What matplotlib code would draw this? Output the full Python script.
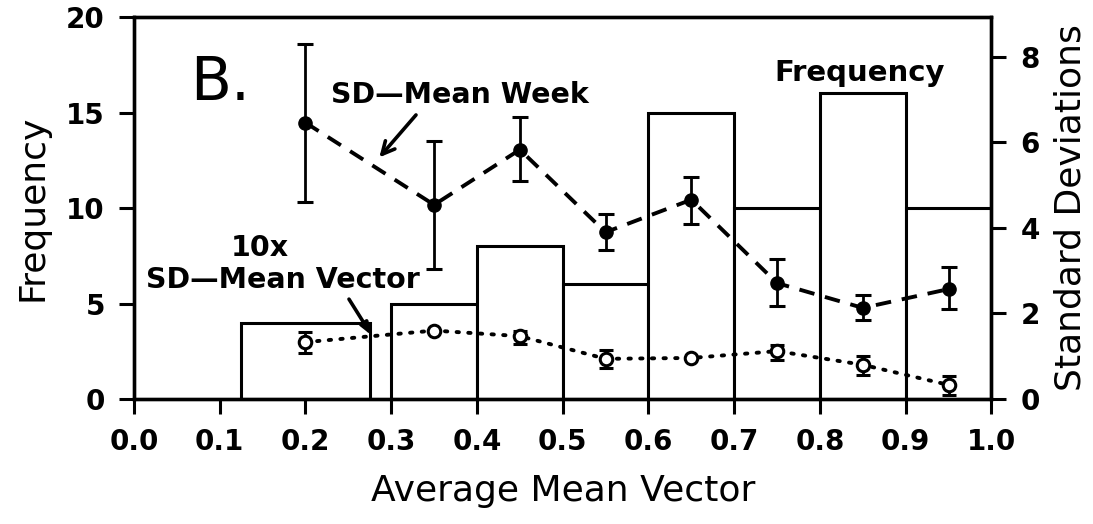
import matplotlib
matplotlib.use("Agg")
import matplotlib.pyplot as plt
from matplotlib.patches import Rectangle
import numpy as np

plt.rcParams['font.family'] = ['DejaVu Sans']

# Histogram (left axis: Frequency)
bin_left = [0.125, 0.3, 0.4, 0.5, 0.6, 0.7, 0.8, 0.9]
bin_right = [0.275, 0.4, 0.5, 0.6, 0.7, 0.8, 0.9, 1.0]
freq = [4, 5, 8, 6, 15, 10, 16, 10]

# Standard deviations (right axis)
x_pts = [0.2, 0.35, 0.45, 0.55, 0.65, 0.75, 0.85, 0.95]
sd_week = [6.46, 4.54, 5.83, 3.90, 4.66, 2.71, 2.13, 2.57]
sd_week_lo = [4.60, 3.04, 5.10, 3.49, 4.10, 2.17, 1.85, 2.10]
sd_week_hi = [8.30, 6.03, 6.60, 4.33, 5.19, 3.27, 2.43, 3.09]
sd_vec10 = [1.33, 1.60, 1.47, 0.94, 0.96, 1.12, 0.80, 0.33]
sd_vec10_lo = [1.08, 1.60, 1.29, 0.73, 0.96, 0.92, 0.56, 0.10]
sd_vec10_hi = [1.57, 1.60, 1.59, 1.15, 0.96, 1.26, 1.00, 0.54]

x_ticks = [0.0, 0.1, 0.2, 0.3, 0.4, 0.5, 0.6, 0.7, 0.8, 0.9, 1.0]
left_ticks = [0, 5, 10, 15, 20]
right_ticks = [0, 2, 4, 6, 8]

fig = plt.figure(figsize=(10.93, 5.24), dpi=100)
ax = fig.add_axes([0.1226, 0.2385, 0.7845, 0.729])
ax2 = ax.twinx()

lw = 2.2
for l, r, h in zip(bin_left, bin_right, freq):
    ax.add_patch(Rectangle((l, 0), r - l, h, facecolor='white', edgecolor='black', linewidth=lw, zorder=1))

ax.set_xlim(0, 1.0)
ax.set_ylim(0, 20)
ax2.set_ylim(0, 8.93)

tfs = 20
ax.set_xticks(x_ticks)
ax.set_xticklabels([f"{t:.1f}" for t in x_ticks], fontsize=tfs, fontweight='bold')
ax.set_yticks(left_ticks)
ax.set_yticklabels([str(t) for t in left_ticks], fontsize=tfs, fontweight='bold')
ax2.set_yticks(right_ticks)
ax2.set_yticklabels([str(t) for t in right_ticks], fontsize=tfs, fontweight='bold')

for a in (ax, ax2):
    a.tick_params(direction='out', length=11, width=2.2, pad=10)
    for s in a.spines.values():
        s.set_linewidth(2.4)

lfs = 26
ax.set_xlabel("Average Mean Vector", fontsize=lfs, labelpad=13)
ax.set_ylabel("Frequency", fontsize=lfs, labelpad=12)
ax2.set_ylabel("Standard Deviations", fontsize=lfs, labelpad=10)

wk = np.array(sd_week)
ax2.errorbar(x_pts, wk, yerr=[wk - np.array(sd_week_lo), np.array(sd_week_hi) - wk],
             fmt='o', color='black', markersize=9.5, elinewidth=2, capsize=5.5, capthick=2.2, zorder=5)
ax2.plot(x_pts, wk, linestyle=(0, (4, 2.8)), color='black', linewidth=2.8, zorder=4)

vc = np.array(sd_vec10)
ax2.errorbar(x_pts, vc, yerr=[vc - np.array(sd_vec10_lo), np.array(sd_vec10_hi) - vc],
             fmt='o', color='black', markerfacecolor='white', markeredgewidth=2.2, markersize=9,
             elinewidth=2, capsize=5, capthick=2.2, zorder=5)
ax2.plot(x_pts, vc, linestyle=(0, (0.6, 2.4)), color='black', linewidth=2.8, zorder=4,
         dash_capstyle='round')

afs = 20.5
ax.text(0.065, 16.5, "B.", fontsize=43, ha='left', va='center')
ax2.text(0.38, 7.11, "SD\u2014Mean Week", fontsize=afs, fontweight='bold', ha='center', va='center')
ax2.annotate("", xy=(0.284, 5.6), xytext=(0.331, 6.69),
             arrowprops=dict(arrowstyle='->,head_length=0.9,head_width=0.45', color='black', lw=2.6))
ax2.text(0.147, 3.53, "10x", fontsize=afs, fontweight='bold', ha='center', va='center')
ax2.text(0.174, 2.78, "SD\u2014Mean Vector", fontsize=afs, fontweight='bold', ha='center', va='center')
ax2.annotate("", xy=(0.279, 1.43), xytext=(0.249, 2.39),
             arrowprops=dict(arrowstyle='-|>,head_length=0.7,head_width=0.25', color='black', lw=2.6))
ax2.text(0.846, 7.63, "Frequency", fontsize=21, fontweight='bold', ha='center', va='center')

fig.savefig("out.png", dpi=100)
